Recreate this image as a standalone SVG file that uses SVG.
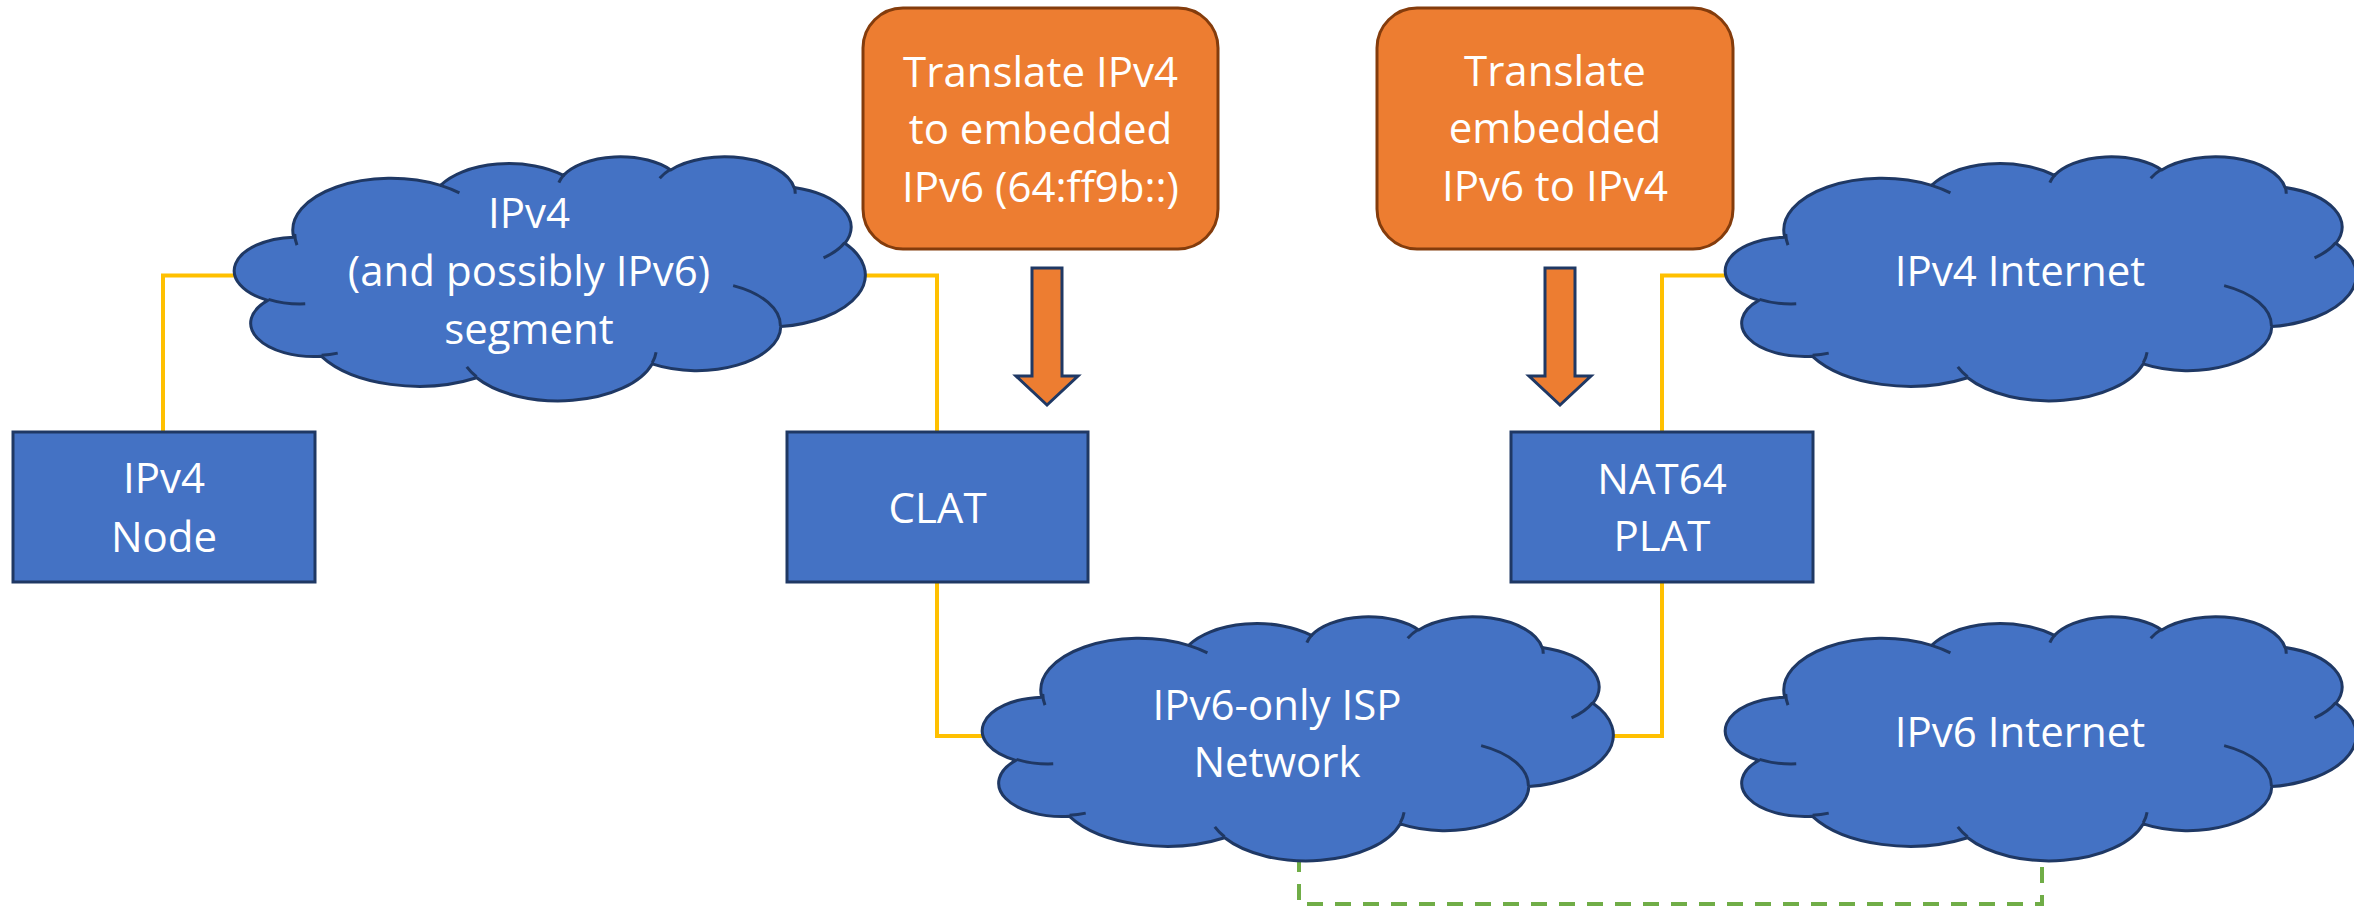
<svg xmlns="http://www.w3.org/2000/svg" xmlns:xlink="http://www.w3.org/1999/xlink" width="2354" height="908" viewBox="0 0 2354 908">
<style>
.box{fill:#4472C4;stroke:#1F3864;stroke-width:3}
.cloud{fill:#4472C4;stroke:#1F3864;stroke-width:3;stroke-linejoin:round}
.inner{fill:none;stroke:#1F3864;stroke-width:3}
.note{fill:#ED7D31;stroke:#843C0C;stroke-width:3}
.arrow{fill:#ED7D31;stroke:#1F3864;stroke-width:3;stroke-linejoin:miter}
.wire{fill:none;stroke:#FFC000;stroke-width:4}
.dash{fill:none;stroke:#70AD47;stroke-width:4;stroke-dasharray:16 12}
text{font-family:"Open Sans","Liberation Sans",sans-serif;font-size:42px;fill:#FFFFFF;text-anchor:middle}
</style>
<defs>
<g id="cloudShape">
<path class="cloud" d="M56.69 81.16 A98.17 51.91 0 0 1 203.59 29.38 A77.53 41.05 0 0 1 326.46 19.36 A63.45 33.58 0 0 1 433.70 13.98 A70.61 37.25 0 0 1 557.06 31.47 A77.53 41.08 0 0 1 607.94 87.29 A98.49 52.08 0 0 1 543.78 170.57 A84.10 44.43 0 0 1 415.16 207.91 A98.15 52.05 0 0 1 239.64 221.77 A112.23 59.55 0 0 1 84.45 200.37 A63.38 33.43 0 0 1 30.76 144.34 A63.16 33.58 0 0 1 56.69 81.16 Z"/>
<path class="inner" d="M68.22 147.85 A63.16 33.58 0 0 1 31.39 143.34 M100.71 197.11 A63.38 33.43 0 0 1 84.59 199.27 M239.54 220.78 A98.15 52.05 0 0 1 229.80 210.94 M419.06 196.28 A98.15 52.05 0 0 1 415.18 207.06 M496.13 129.65 A84.10 44.43 0 0 1 543.39 169.95 M607.62 86.72 A77.53 41.08 0 0 1 586.55 101.84 M557.12 30.65 A70.61 37.25 0 0 1 558.22 37.79 M422.71 22.32 A70.61 37.25 0 0 1 433.49 13.22 M321.86 26.66 A63.45 33.58 0 0 1 327.08 18.81 M203.52 29.32 A98.17 51.91 0 0 1 222.42 36.94 M59.99 89.18 A98.17 51.91 0 0 1 57.80 77.89"/>
</g>
</defs>
<g id="connectors">
<path class="wire" d="M163 432 V275.5 H237"/>
<path class="wire" d="M865 275.5 H937 V432"/>
<path class="wire" d="M937 582 V736 H985"/>
<path class="wire" d="M1612 736 H1662 V582"/>
<path class="wire" d="M1662 432 V275.5 H1728"/>
<path class="dash" d="M1299 856 V904 H2042 V861"/>
</g>
<g id="cloud-ipv4-segment">
<use xlink:href="#cloudShape" transform="translate(237,156)"/>
<text x="529" y="228">IPv4</text>
<text x="529" y="286">(and possibly IPv6)</text>
<text x="529" y="344">segment</text>
</g>
<g id="cloud-ipv4-internet">
<use xlink:href="#cloudShape" transform="translate(1728,156)"/>
<text x="2020" y="286">IPv4 Internet</text>
</g>
<g id="cloud-isp">
<use xlink:href="#cloudShape" transform="translate(985,616)"/>
<text x="1277" y="720">IPv6-only ISP</text>
<text x="1277" y="777">Network</text>
</g>
<g id="cloud-ipv6-internet">
<use xlink:href="#cloudShape" transform="translate(1728,616)"/>
<text x="2020" y="747">IPv6 Internet</text>
</g>
<g id="node-ipv4">
<rect class="box" x="13" y="432" width="302" height="150"/>
<text x="164" y="493">IPv4</text>
<text x="164" y="552">Node</text>
</g>
<g id="node-clat">
<rect class="box" x="787" y="432" width="301" height="150"/>
<text x="937.5" y="523">CLAT</text>
</g>
<g id="node-nat64">
<rect class="box" x="1511" y="432" width="302" height="150"/>
<text x="1662" y="494">NAT64</text>
<text x="1662" y="551">PLAT</text>
</g>
<g id="note-clat">
<rect class="note" x="863" y="8" width="355" height="241" rx="40" ry="40"/>
<text x="1040.5" y="87">Translate IPv4</text>
<text x="1040.5" y="144">to embedded</text>
<text x="1040.5" y="202">IPv6 (64:ff9b::)</text>
</g>
<g id="note-plat">
<rect class="note" x="1377" y="8" width="356" height="241" rx="40" ry="40"/>
<text x="1555" y="86">Translate</text>
<text x="1555" y="143">embedded</text>
<text x="1555" y="201">IPv6 to IPv4</text>
</g>
<g id="arrow-clat">
<polygon class="arrow" points="1032,268 1062,268 1062,376 1078,376 1047,405 1016,376 1032,376"/>
</g>
<g id="arrow-plat">
<polygon class="arrow" points="1545,268 1575,268 1575,376 1591,376 1560,405 1529,376 1545,376"/>
</g>
</svg>
